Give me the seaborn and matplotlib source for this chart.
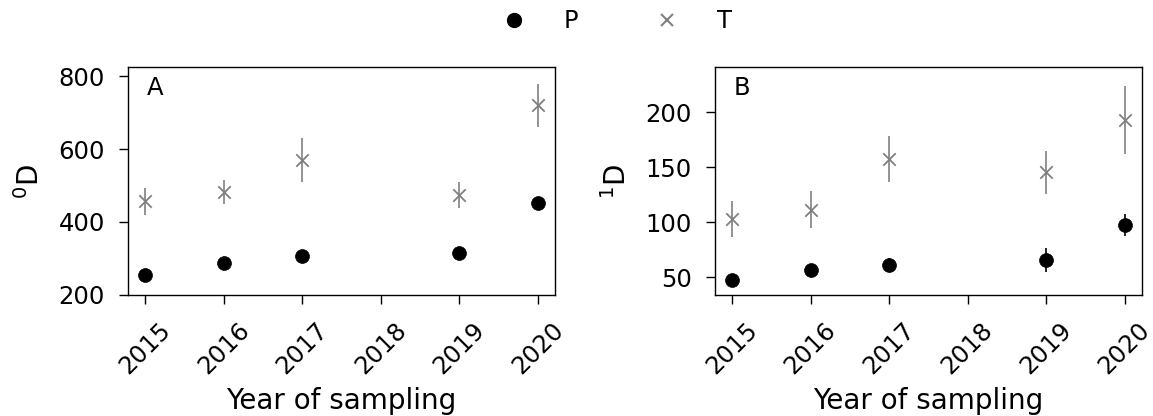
import matplotlib
matplotlib.use("Agg")
import matplotlib.pyplot as plt
import seaborn as sns
import pandas as pd
from matplotlib.lines import Line2D

# Sampling years (2018 has no observations)
years = [2015, 2016, 2017, 2019, 2020]
year_ticks = [2015, 2016, 2017, 2018, 2019, 2020]

# Panel A: order-0 diversity (mean and error)
a_p_mean = [255, 288, 308, 316, 452]
a_p_err = [12, 12, 12, 14, 14]
a_t_mean = [457, 482, 570, 474, 720]
a_t_err = [37, 34, 60, 36, 59]

# Panel B: order-1 diversity (mean and error)
b_p_mean = [48, 57, 61.5, 66, 97.5]
b_p_err = [4, 5, 6, 11, 10]
b_t_mean = [103, 111.5, 157.5, 145.5, 193]
b_t_err = [16, 17, 20.5, 19.5, 31]

groups = ["P", "T"]
colors = {"P": "black", "T": "grey"}
markers = {"P": "o", "T": "x"}

FS = 17.5      # tick labels, panel tags, legend
FS_LAB = 20    # axis labels

sns.set_style("ticks", {"axes.edgecolor": "black", "xtick.color": "black",
                        "ytick.color": "black", "text.color": "black",
                        "axes.labelcolor": "black"})
plt.rcParams["font.family"] = ["DejaVu Sans"]
plt.rcParams["font.size"] = FS

fig = plt.figure(figsize=(11.53, 4.16), dpi=100)
ax_a = fig.add_axes([0.111, 0.291, 0.3703, 0.548])
ax_b = fig.add_axes([0.620, 0.291, 0.3703, 0.548])


def make_frame(p_mean, p_err, t_mean, t_err):
    rows = []
    for g, m, e in (("P", p_mean, p_err), ("T", t_mean, t_err)):
        for y, v, s in zip(years, m, e):
            rows.append({"year": y, "value": v, "err": s, "group": g})
    return pd.DataFrame(rows)


def draw(ax, df, ylabel, tag, ylim=None):
    for g in groups:
        sub = df[df["group"] == g]
        ax.errorbar(sub["year"], sub["value"], yerr=sub["err"], fmt="none",
                    ecolor=colors[g], elinewidth=1.2, capsize=0, zorder=2)
    for g in groups:
        sub = df[df["group"] == g]
        if g == "P":
            sns.scatterplot(data=sub, x="year", y="value", ax=ax, color=colors[g],
                            marker=markers[g], s=100, edgecolor="black",
                            linewidth=0.5, legend=False, zorder=3)
        else:
            sns.scatterplot(data=sub, x="year", y="value", ax=ax, color=colors[g],
                            marker=markers[g], s=80, linewidth=1.3,
                            legend=False, zorder=3)
    ax.set_xticks(year_ticks)
    ax.set_xticklabels([str(y) for y in year_ticks], rotation=45, ha="center",
                       fontsize=FS)
    ax.tick_params(axis="y", labelsize=FS, length=6.5, width=1, pad=10)
    ax.tick_params(axis="x", length=6.5, width=1, pad=10)
    ax.set_xlim(2014.78, 2020.22)
    if ylim is not None:
        ax.set_ylim(*ylim)
    ax.set_xlabel("Year of sampling", fontsize=FS_LAB, labelpad=6)
    ax.set_ylabel(ylabel, fontsize=FS_LAB, labelpad=10)
    ax.text(0.045, 0.96, tag, transform=ax.transAxes, fontsize=FS,
            va="top", ha="left")
    for sp in ax.spines.values():
        sp.set_linewidth(1.0)
        sp.set_color("black")


draw(ax_a, make_frame(a_p_mean, a_p_err, a_t_mean, a_t_err), "$^0$D", "A",
     ylim=(200, 825))
ax_a.set_yticks([200, 400, 600, 800])
draw(ax_b, make_frame(b_p_mean, b_p_err, b_t_mean, b_t_err), "$^1$D", "B",
     ylim=(34, 241))
ax_b.set_yticks([50, 100, 150, 200])

handles = [
    Line2D([], [], linestyle="none", marker="o", color="black", markersize=10),
    Line2D([], [], linestyle="none", marker="x", color="grey", markersize=8.5,
           markeredgewidth=1.5),
]
fig.legend(handles, groups, loc="upper center", bbox_to_anchor=(0.5295, 1.03),
           ncol=2, frameon=False, fontsize=FS, columnspacing=2.65,
           handletextpad=1.05)

fig.savefig("out.png", dpi=100)
